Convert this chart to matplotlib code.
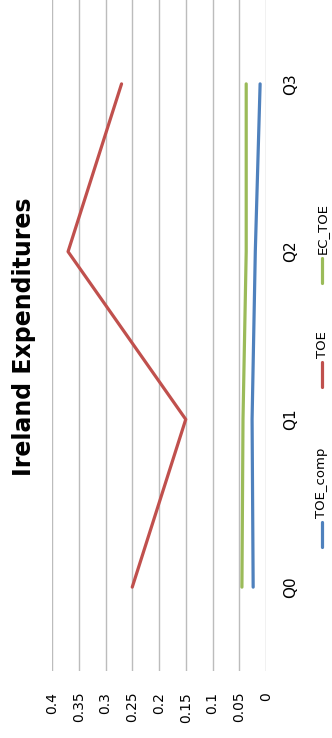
import numpy as np
import matplotlib.pyplot as plt
from matplotlib.lines import Line2D

# Ireland expenditures by quarter (chart drawn rotated 90 degrees)
quarters = ["Q0", "Q1", "Q2", "Q3"]
toe_comp = [0.024, 0.026, 0.020, 0.011]
toe = [0.25, 0.15, 0.37, 0.27]
ec_toe = [0.045, 0.043, 0.037, 0.037]
value_ticks = [0, 0.05, 0.1, 0.15, 0.2, 0.25, 0.3, 0.35, 0.4]

series = [("TOE_comp", toe_comp, "#4F81BD"),
          ("TOE", toe, "#C0504D"),
          ("EC_TOE", ec_toe, "#9BBB59")]

W, H = 332, 738


def px(x, y):
    # pixel position -> figure fraction
    return x / W, 1 - y / H


fig = plt.figure(figsize=(W / 100, H / 100), dpi=100)
ax = fig.add_axes([52 / W, 67 / H, 214 / W, 671 / H])

pos = np.arange(len(quarters))
for name, vals, col in series:
    ax.plot(vals, pos, color=col, lw=2.3, solid_capstyle="round")

ax.set_xlim(0.4, 0)
ax.set_ylim(-0.5, len(quarters) - 0.5)
ax.set_xticks(value_ticks)
ax.set_xticklabels([f"{v:g}" for v in value_ticks], rotation=90)
ax.grid(axis="x", color="#bcbcbc", lw=1)
ax.set_axisbelow(True)
for s in ax.spines.values():
    s.set_visible(False)
ax.tick_params(axis="x", length=0, pad=15, labelsize=10)

ax.yaxis.tick_right()
ax.set_yticks(pos)
ax.set_yticklabels(quarters, rotation=90, va="center")
ax.tick_params(axis="y", length=0, pad=12, labelsize=11)

# title on the left
fig.text(*px(12, 337), "Ireland Expenditures", rotation=90, ha="left",
         va="center", fontsize=17, fontweight="bold")

# legend, rotated, on the right edge
legend_spots = [(547, 522), (387, 362), (283, 258)]  # (line bottom, line top) in px
for (name, vals, col), (yb, yt) in zip(series, legend_spots):
    x0, y0 = px(322, yb)
    x1, y1 = px(322, yt)
    fig.add_artist(Line2D([x0, x1], [y0, y1], color=col, lw=2.3,
                          solid_capstyle="round", transform=fig.transFigure))
    fig.text(*px(322, yt - 4), name, rotation=90, ha="center", va="bottom",
             fontsize=9.5)

fig.savefig("out.png", dpi=100)
